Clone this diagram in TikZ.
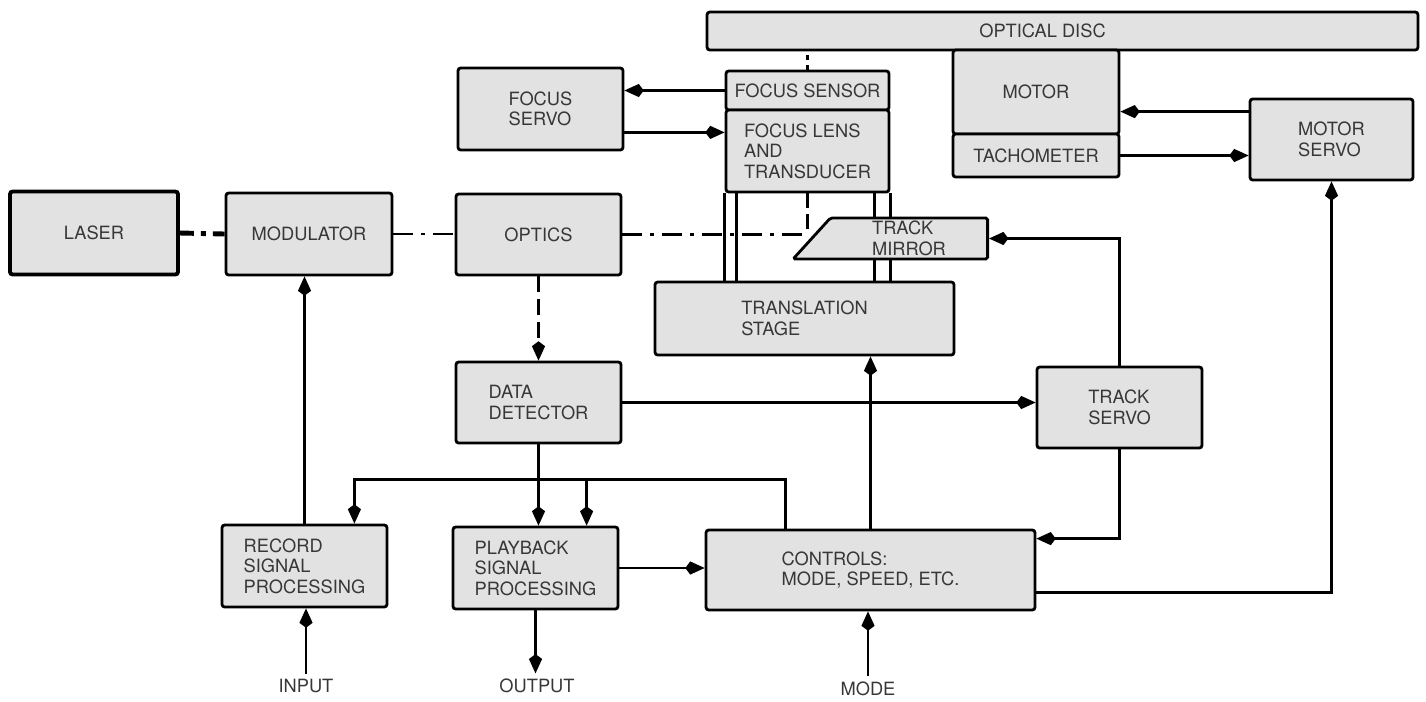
\documentclass[tikz,border=0pt]{standalone}
\usepackage{fontspec}
\setmainfont{TeX Gyre Heros}
\usetikzlibrary{arrows.meta,shapes.geometric,calc}

\definecolor{boxgray}{RGB}{226,226,226}
\definecolor{inkgray}{RGB}{55,55,55}

\begin{document}
\begin{tikzpicture}[x=0.02cm,y=-0.02cm,
  blk/.style={draw, line width=1.6pt, fill=boxgray, rounded corners=1.5pt, text=inkgray, align=left, inner sep=0pt, font=\fontsize{10.4}{11.6}\selectfont},
  sig/.style={line width=1.4pt, -{Kite[length=11pt,width=7.5pt,inset=2.8pt]}},
  beam/.style={line width=1.4pt, dash pattern=on 0.4cm off 0.16cm on 0.08cm off 0.16cm},
  lbl/.style={text=inkgray, inner sep=3pt, font=\fontsize{10.4}{11.6}\selectfont}]
\useasboundingbox (0,0) rectangle (1426,701);

\node[blk, minimum width=14.22cm, minimum height=0.76cm, label={[text=inkgray, font=\fontsize{10.4}{11.6}\selectfont, xshift=-0.4cm]center:OPTICAL DISC}] (disc) at (1062.5,31) {};
\node[blk, minimum width=3.32cm, minimum height=1.68cm] (motor) at (1036,92) {MOTOR};
\node[blk, minimum width=3.32cm, minimum height=0.86cm] (tacho) at (1036,155.5) {TACHOMETER};
\node[blk, minimum width=3.26cm, minimum height=1.62cm] (motservo) at (1331.5,139.5) {MOTOR\\SERVO};
\node[blk, minimum width=3.26cm, minimum height=0.78cm] (focsens) at (807.5,90.5) {FOCUS SENSOR};
\node[blk, minimum width=3.26cm, minimum height=1.64cm] (foclens) at (807.5,151) {FOCUS LENS\\AND\\TRANSDUCER};
\node[blk, minimum width=3.3cm, minimum height=1.64cm] (focservo) at (540.5,109) {FOCUS\\SERVO};
\node[blk, line width=2.2pt, minimum width=3.36cm, minimum height=1.66cm] (laser) at (94,233) {LASER};
\node[blk, minimum width=3.32cm, minimum height=1.64cm] (modulator) at (309,234) {MODULATOR};
\node[blk, minimum width=3.3cm, minimum height=1.62cm] (optics) at (538.5,234.5) {OPTICS};
\node[blk, minimum width=5.98cm, minimum height=1.46cm] (stage) at (804.5,318.5) {TRANSLATION\\STAGE};
\node[blk, minimum width=3.3cm, minimum height=1.62cm] (detector) at (538.5,402.5) {DATA\\DETECTOR};
\node[blk, minimum width=3.3cm, minimum height=1.62cm] (trackservo) at (1119.5,407.5) {TRACK\\SERVO};
\node[blk, minimum width=3.3cm, minimum height=1.64cm] (record) at (304.5,566) {RECORD\\SIGNAL\\PROCESSING};
\node[blk, minimum width=3.3cm, minimum height=1.64cm] (playback) at (535.5,568) {PLAYBACK\\SIGNAL\\PROCESSING};
\node[blk, minimum width=6.58cm, minimum height=1.6cm] (controls) at (870.5,570) {CONTROLS:\\MODE, SPEED, ETC.};
\node[lbl] (input) at (306,686) {INPUT};
\node[lbl] (output) at (537,686) {OUTPUT};
\node[lbl] (mode) at (868,689) {MODE};

\draw[line width=1.4pt] (foclens.south west) -- (foclens.south west |- stage.north);
\draw[line width=1.4pt] ($(foclens.south west)+(12,0)$) -- ($(foclens.south west |- stage.north)+(12,0)$);
\draw[line width=1.4pt] ($(foclens.south east)+(-16,0)$) -- ($(foclens.south east |- stage.north)+(-16,0)$);
\draw[line width=1.4pt] (foclens.south east) -- (foclens.south east |- stage.north);

\coordinate (hit) at (foclens.south |- optics.east);
\draw[line width=2.8pt, dash pattern=on 0.28cm off 0.14cm on 0.1cm off 0.14cm] (laser.east) -- (modulator.west);
\draw[beam] (modulator.west -| modulator.east) -- (optics.west |- modulator.east);
\draw[beam] (optics.east) -- (hit);
\draw[line width=1.4pt, dash pattern=on 0.3cm off 0.12cm] (foclens.south) -- (hit);
\draw[line width=1.4pt, dash pattern=on 0.1cm off 0.1cm] (focsens.north) -- (focsens.north |- disc.south);

\node[blk, shape=trapezium, trapezium left angle=63, trapezium right angle=90, trapezium stretches=true, minimum width=3.9cm, minimum height=0.82cm, rounded corners=1pt] (mirror) at (909,238.5) {TRACK\\MIRROR};

\draw[sig] (focsens.west) -- (focsens.west -| focservo.east);
\draw[sig] ($(focservo.south east)+(0,-19)$) coordinate (fs1) -- (fs1 -| foclens.west);
\draw[sig] ($(motservo.north west)+(0,14)$) coordinate (ms1) -- (ms1 -| motor.east);
\draw[sig] (tacho.east) -- (tacho.east -| motservo.west);
\draw[sig, dash pattern=on 0.32cm off 0.14cm] (optics.south) -- (detector.north);
\draw[sig] (detector.east) -- (detector.east -| trackservo.west);
\draw[sig] (trackservo.north) |- (mirror.east);
\draw[sig] (trackservo.south) |- ($(controls.north east)+(0,10)$);
\draw[sig] ($(controls.south east)+(0,-19)$) -| (motservo.south);
\draw[sig] (controls.north) -- (controls.north |- stage.south);
\draw[sig] (mode.north) -- (mode.north |- controls.south);
\draw[sig] (detector.south) -- (detector.south |- playback.north);
\draw[sig] ($(controls.north west)+(81,0)$) -- ++(0,-49) -| ($(record.north east)+(-34,0)$);
\draw[sig] ($(playback.north west)+(135,-46)$) -- ($(playback.north west)+(135,0)$);
\draw[sig] (record.north) -- (record.north |- modulator.south);
\draw[sig] (input.north) -- (input.north |- record.south);
\draw[sig] (playback.south) -- (playback.south |- output.north);
\draw[sig] (playback.east) -- (playback.east -| controls.west);
\end{tikzpicture}
\end{document}
